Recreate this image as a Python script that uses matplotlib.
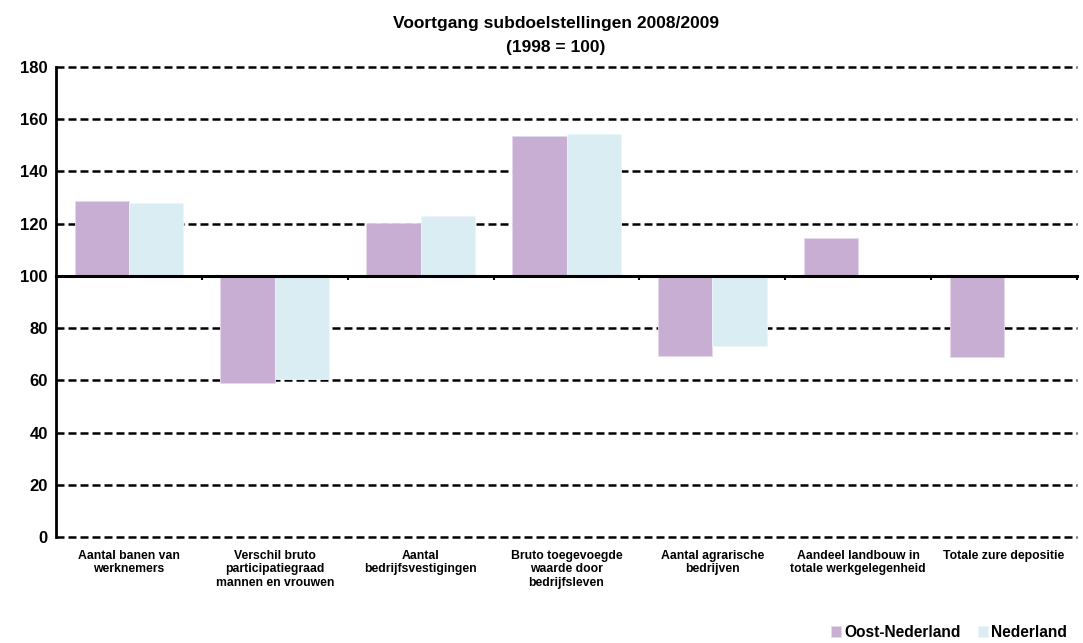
import matplotlib
matplotlib.use("Agg")
import matplotlib.pyplot as plt
import matplotlib.transforms as mtransforms
import numpy as np

categories = [
    "Aantal banen van\nwerknemers",
    "Verschil bruto\nparticipatiegraad\nmannen en vrouwen",
    "Aantal\nbedrijfsvestigingen",
    "Bruto toegevoegde\nwaarde door\nbedrijfsleven",
    "Aantal agrarische\nbedrijven",
    "Aandeel landbouw in\ntotale werkgelegenheid",
    "Totale zure depositie",
]
oost = [128.8, 58.9, 120.3, 153.5, 69.4, 114.5, 68.9]
nederland = [127.9, 60.4, 122.8, 154.4, 73.2, np.nan, np.nan]
yticks = [0, 20, 40, 60, 80, 100, 120, 140, 160, 180]
base = 100

c_oost = "#C8AED2"
c_ned = "#DAEDF3"

plt.rcParams['font.family'] = ['Liberation Sans', 'DejaVu Sans']

fig = plt.figure(figsize=(10.83, 6.43), dpi=100)
ax = fig.add_axes([0.0517, 0.1649, 0.9428, 0.7309])

x = np.arange(len(categories))
w = 0.373
ax.bar(x - w / 2, np.array(oost) - base, w, bottom=base, color=c_oost,
       edgecolor="#E6DAEA", linewidth=0.6, label="Oost-Nederland", zorder=2)
ax.bar(x + w / 2, np.array(nederland) - base, w, bottom=base, color=c_ned,
       edgecolor="#EDF6F9", linewidth=0.6, label="Nederland", zorder=2)

ax.set_xlim(-0.5, len(categories) - 0.5)
ax.set_ylim(0, 180)

for t in yticks:
    if t == base:
        continue
    ax.axhline(t, color="black", linestyle=(0, (3.2, 1.6)), linewidth=1.8,
               zorder=1, clip_on=False)

ax.set_yticks(yticks)
ax.set_yticklabels([str(t) for t in yticks], fontsize=12, fontweight="bold")
ax.tick_params(axis="y", length=0, pad=6)

for s in ["top", "right"]:
    ax.spines[s].set_visible(False)
ax.spines["left"].set_linewidth(2)
ax.spines["left"].set_zorder(3)
ax.spines["bottom"].set_position(("data", base))
ax.spines["bottom"].set_linewidth(2.2)
ax.spines["bottom"].set_zorder(3)

ax.set_xticks(x + 0.5)
ax.set_xticklabels([])
ax.tick_params(axis="x", direction="out", length=3, width=1.5)

trans = mtransforms.blended_transform_factory(ax.transData, ax.transAxes)
for xi, lab in zip(x, categories):
    ax.text(xi, -0.027, lab, transform=trans, ha="center", va="top",
            fontsize=8.8, fontweight="bold", linespacing=1.2)

fig.text(0.513, 0.945, "Voortgang subdoelstellingen 2008/2009\n(1998 = 100)",
         ha="center", va="center", fontsize=12.5, fontweight="bold",
         linespacing=1.7)

leg = fig.legend(loc="lower right", bbox_to_anchor=(0.998, -0.017), ncol=2,
                 frameon=False, handlelength=0.65, handleheight=0.65,
                 handletextpad=0.2, columnspacing=1.1,
                 prop={"weight": "bold", "size": 11.2})

fig.savefig("out.png", dpi=100)
